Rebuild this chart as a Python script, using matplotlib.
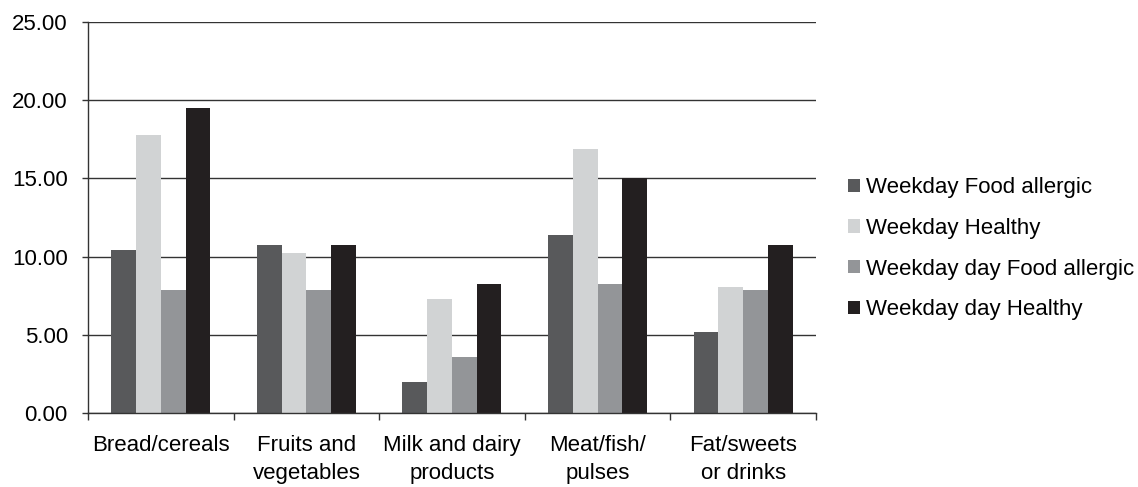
import numpy as np
import matplotlib.pyplot as plt

plt.rcParams['font.family'] = ['Liberation Sans', 'DejaVu Sans']

categories = ["Bread/cereals", "Fruits and\nvegetables", "Milk and dairy\nproducts",
              "Meat/fish/\npulses", "Fat/sweets\nor drinks"]
series_names = ["Weekday Food allergic", "Weekday Healthy",
                "Weekday day Food allergic", "Weekday day Healthy"]
wd_allergic = [10.45, 10.75, 2.00, 11.40, 5.20]
wd_healthy = [17.75, 10.20, 7.27, 16.90, 8.05]
wdd_allergic = [7.85, 7.85, 3.60, 8.23, 7.85]
wdd_healthy = [19.50, 10.75, 8.23, 15.00, 10.75]
colors = ["#58595b", "#d1d3d4", "#939598", "#231f20"]

fig = plt.figure(figsize=(11.38, 4.87), dpi=100)
ax = fig.add_axes([0.0773, 0.152, 0.6397, 0.803])

x = np.arange(len(categories))
w = 0.17
for i, (vals, name, c) in enumerate(zip([wd_allergic, wd_healthy, wdd_allergic, wdd_healthy],
                                        series_names, colors)):
    ax.bar(x + (i - 1.5) * w, vals, width=w, color=c, label=name, zorder=2)

ax.set_ylim(0, 25)
ax.set_xlim(-0.5, len(categories) - 0.5)
ax.set_yticks(np.arange(0, 26, 5))
ax.set_yticklabels([f"{v:.2f}" for v in np.arange(0, 26, 5)], fontsize=16)
ax.yaxis.grid(True, color="#333333", linewidth=1.0, zorder=1)
ax.set_axisbelow(True)

# category labels at group centres, tick marks on the boundaries
ax.set_xticks(x)
ax.set_xticklabels(categories, fontsize=16, linespacing=1.4, va="top")
ax.tick_params(axis="x", length=0, pad=16)
ax.set_xticks(np.arange(-0.5, len(categories)), minor=True)
ax.tick_params(axis="x", which="minor", length=5, width=1, color="#333333")
ax.tick_params(axis="y", length=4.5, width=1, color="#333333", pad=10)

for s in ["top", "right"]:
    ax.spines[s].set_visible(False)
for s in ["left", "bottom"]:
    ax.spines[s].set_color("#333333")
    ax.spines[s].set_linewidth(1.0)

ax.legend(loc="center left", bbox_to_anchor=(1.044, 0.42), frameon=False,
          fontsize=16, handlelength=0.55, handleheight=0.55, handletextpad=0.25,
          labelspacing=0.89, borderaxespad=0, borderpad=0)

fig.savefig("out.png", dpi=100)
